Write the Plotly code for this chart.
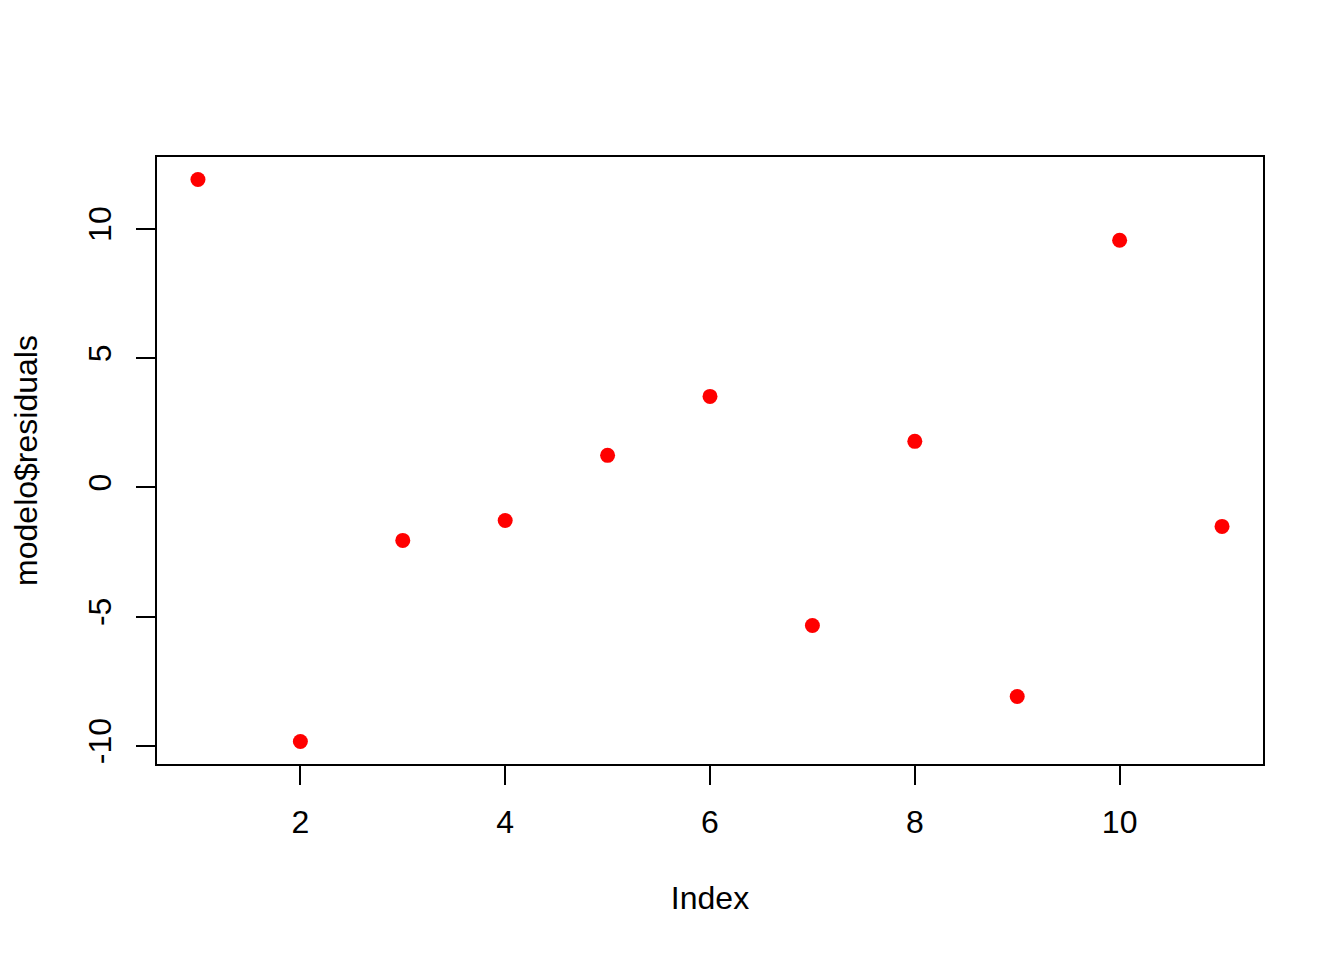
import plotly.graph_objects as go

index = [1, 2, 3, 4, 5, 6, 7, 8, 9, 10, 11]
residuals = [11.91, -9.83, -2.05, -1.28, 1.24, 3.52, -5.34, 1.78, -8.09, 9.56, -1.51]
x_ticks = [2, 4, 6, 8, 10]
y_ticks = [-10, -5, 0, 5, 10]

FONT = "Liberation Sans, Arial, Helvetica, sans-serif"

fig = go.Figure(
    go.Scatter(
        x=index, y=residuals, mode="markers",
        marker=dict(color="#ff0000", size=15, line=dict(width=0)),
        showlegend=False,
    )
)

axis_common = dict(
    showgrid=False, zeroline=False, showline=True, mirror=True,
    linecolor="black", linewidth=2, ticks="outside", ticklen=19,
    tickwidth=2, tickcolor="black",
    tickfont=dict(family=FONT, size=32, color="black"),
)

fig.update_layout(
    width=1344, height=960,
    margin=dict(l=149, r=89, t=149, b=204),
    paper_bgcolor="white", plot_bgcolor="white",
    font=dict(family=FONT, color="black"),
    xaxis=dict(
        range=[0.6, 11.4], tickvals=x_ticks, ticktext=[str(v) for v in x_ticks],
        title=dict(text="Index", font=dict(family=FONT, size=32, color="black"), standoff=47),
        ticklabelstandoff=10,
        **axis_common,
    ),
    yaxis=dict(
        range=[-10.7, 12.78], tickvals=y_ticks, ticktext=[str(v) for v in y_ticks],
        tickangle=-90,
        title=dict(text="modelo$residuals", font=dict(family=FONT, size=32, color="black"), standoff=40),
        ticklabelstandoff=12,
        **axis_common,
    ),
)

fig.write_html("out.html")
